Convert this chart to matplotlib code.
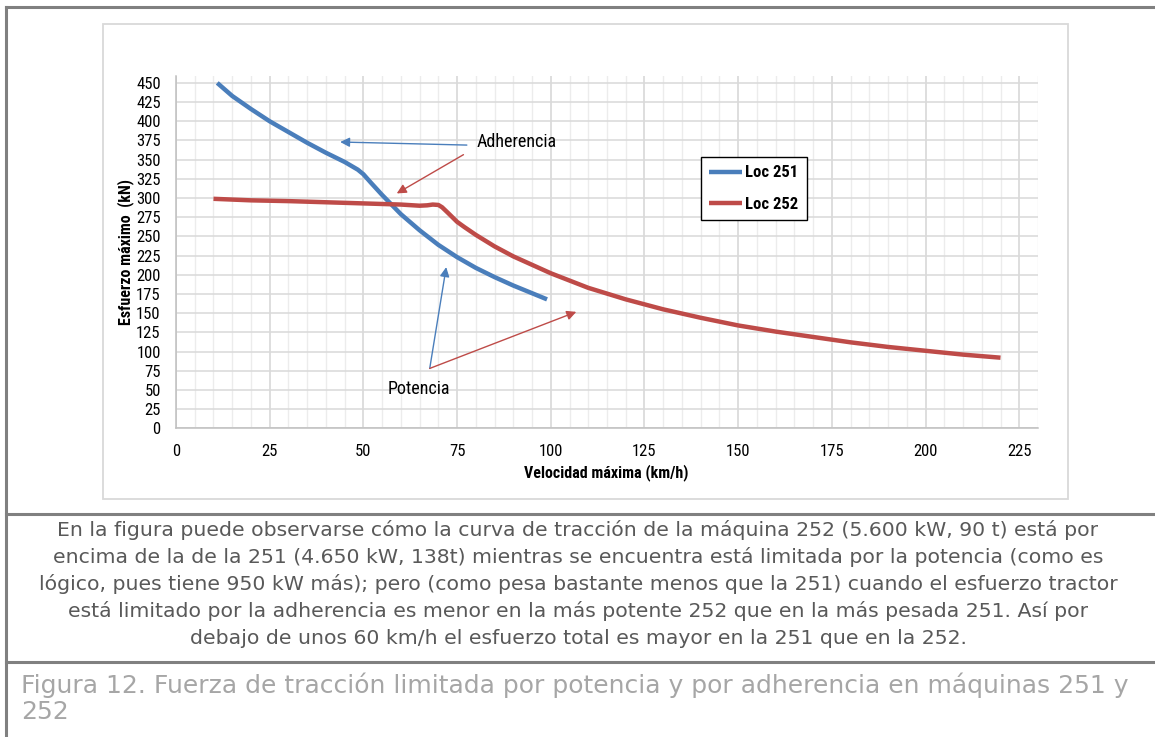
import matplotlib
matplotlib.use("Agg")
import matplotlib.pyplot as plt
from matplotlib.patches import Rectangle
from matplotlib.lines import Line2D
from matplotlib.ticker import MultipleLocator
from matplotlib import font_manager

# ---------------- data ----------------
v251 = [11, 15, 20, 25, 30, 35, 40, 45, 48.5, 50, 52, 55, 58, 60, 65, 70, 75, 80, 85, 90, 95, 99]
f251 = [450, 433, 416, 400, 386, 372, 359, 347, 337, 331, 320, 304, 289, 279, 258, 239, 223, 209, 197, 186, 176, 168]

v252 = [10, 20, 30, 40, 50, 60, 65, 67, 68.5, 70, 71, 72.5, 75, 77, 80, 85, 90, 100, 110, 120, 130,
        140, 150, 160, 170, 180, 190, 200, 210, 220]
f252 = [299, 297, 296, 294.5, 293, 291.5, 290, 290.5, 291.5, 291, 288, 281, 269, 262, 252, 237, 224, 202, 183, 168,
        155, 144, 134, 126, 119, 112, 106, 101, 96, 92]

series_names = ["Loc 251", "Loc 252"]
x_label = "Velocidad máxima (km/h)"
y_label = "Esfuerzo máximo  (kN)"
x_ticks = list(range(0, 226, 25))
y_ticks = list(range(0, 451, 25))

body_lines = [
    "En la figura puede observarse cómo la curva de tracción de la máquina 252 (5.600 kW, 90 t) está por",
    "encima de la de la 251 (4.650 kW, 138t) mientras se encuentra está limitada por la potencia (como es",
    "lógico, pues tiene 950 kW más); pero (como pesa bastante menos que la 251) cuando el esfuerzo tractor",
    "está limitado por la adherencia es menor en la más potente 252 que en la más pesada 251. Así por",
    "debajo de unos 60 km/h el esfuerzo total es mayor en la 251 que en la 252.",
]
caption_lines = [
    "Figura 12. Fuerza de tracción limitada por potencia y por adherencia en máquinas 251 y",
    "252",
]

# ---------------- fonts ----------------
available = {f.name for f in font_manager.fontManager.ttflist}


def pick(prefs):
    return [p for p in prefs if p in available] + ["DejaVu Sans"]


CHART_FONT = pick(["Liberation Sans Narrow", "Roboto Condensed", "Roboto", "Liberation Sans"])
BODY_FONT = pick(["DejaVu Sans"])

# ---------------- layout ----------------
W, H = 1155, 737
fig = plt.figure(figsize=(W / 100, H / 100), dpi=100)
fig.patch.set_facecolor("white")


def fx(x):
    return x / W


def fy(y):
    return 1 - y / H


BLUE = "#4a7ebb"
RED = "#be4b48"

# outer table borders
gray = "#808080"
fig.add_artist(Line2D([fx(6), fx(6)], [fy(7), fy(737)], color=gray, lw=2.2, transform=fig.transFigure))
fig.add_artist(Line2D([fx(6), fx(1155)], [fy(7), fy(7)], color=gray, lw=2.2, transform=fig.transFigure))
fig.add_artist(Line2D([fx(6), fx(1155)], [fy(514), fy(514)], color=gray, lw=2.2, transform=fig.transFigure))
fig.add_artist(Line2D([fx(6), fx(1155)], [fy(662), fy(662)], color=gray, lw=2.2, transform=fig.transFigure))

# inner chart box
fig.add_artist(Rectangle((fx(103), fy(499)), fx(1068) - fx(103), fy(24) - fy(499),
                         transform=fig.transFigure, fill=False, edgecolor="#d9d9d9", lw=1.3))

# axes
L, R, T, B = 176, 1038, 76, 428.3
ax = fig.add_axes([fx(L), fy(B), fx(R) - fx(L), fy(T) - fy(B)])
ax.set_xlim(0, 230)
ax.set_ylim(0, 459)
ax.xaxis.set_minor_locator(MultipleLocator(5))
ax.set_xticks(x_ticks)
ax.set_yticks(y_ticks)
ax.grid(True, which="major", axis="y", color="#d9d9d9", lw=1.1)
ax.grid(True, which="major", axis="x", color="#d4d4d4", lw=1.1)
ax.grid(True, which="minor", axis="x", color="#ececec", lw=1.0)
ax.set_axisbelow(True)
for s in ["top", "right"]:
    ax.spines[s].set_visible(False)
for s in ["left", "bottom"]:
    ax.spines[s].set_color("#bfbfbf")
    ax.spines[s].set_linewidth(1.1)
ax.tick_params(which="both", length=0)
ax.tick_params(axis="x", pad=11)
ax.tick_params(axis="y", pad=11)
for lab in ax.get_xticklabels() + ax.get_yticklabels():
    lab.set_family(CHART_FONT)
    lab.set_fontsize(12)
    lab.set_color("#000000")

ax.plot(v251, f251, color=BLUE, lw=3.2, solid_capstyle="butt", solid_joinstyle="round", label=series_names[0])
ax.plot(v252, f252, color=RED, lw=3.2, solid_capstyle="butt", solid_joinstyle="round", label=series_names[1])

# annotations
ax.text(80.3, 373, "Adherencia", family=CHART_FONT, fontsize=13, va="center", ha="left")
ax.annotate("", xy=(43.8, 373), xytext=(77.6, 369),
            arrowprops=dict(arrowstyle="-|>", color=BLUE, lw=1.0, mutation_scale=14, shrinkA=0, shrinkB=0))
ax.annotate("", xy=(58.9, 306), xytext=(76.7, 356.5),
            arrowprops=dict(arrowstyle="-|>", color=RED, lw=1.0, mutation_scale=14, shrinkA=0, shrinkB=0))
ax.text(56.4, 50.8, "Potencia", family=CHART_FONT, fontsize=13, va="center", ha="left")
ax.annotate("", xy=(72.1, 210), xytext=(67.7, 78),
            arrowprops=dict(arrowstyle="-|>", color=BLUE, lw=1.0, mutation_scale=14, shrinkA=0, shrinkB=0))
ax.annotate("", xy=(106.8, 151.7), xytext=(67.7, 78),
            arrowprops=dict(arrowstyle="-|>", color=RED, lw=1.0, mutation_scale=14, shrinkA=0, shrinkB=0))

leg = ax.legend(loc="upper left", bbox_to_anchor=((701 - L) / (R - L), (B - 157) / (B - T)),
                prop=dict(family=CHART_FONT, weight="bold", size=12),
                frameon=True, fancybox=False, edgecolor="#000000", framealpha=1,
                handlelength=1.95, handletextpad=0.2, labelspacing=1.0, borderpad=0.5,
                borderaxespad=0)
leg.get_frame().set_linewidth(1.0)

# axis titles
fig.text(fx(606), fy(473), x_label, family=CHART_FONT, weight="bold", fontsize=11.5,
         ha="center", va="center")
fig.text(fx(126), fy(252), y_label, family=CHART_FONT, weight="bold", fontsize=11.5,
         ha="center", va="center", rotation=90)

# body text (fit to measured line widths)
renderer = fig.canvas.get_renderer()


def fit_size(text, family, size0, target_px):
    t = fig.text(0, 0, text, family=family, fontsize=size0)
    w = t.get_window_extent(renderer).width
    t.remove()
    return size0 * target_px / w


body_size = fit_size(body_lines[0], BODY_FONT, 12, 1033)
for i, line in enumerate(body_lines):
    fig.text(fx(578), fy(530 + 27 * i), line, family=BODY_FONT, fontsize=body_size, color="#595959",
             ha="center", va="center")

cap_size = fit_size(caption_lines[0], BODY_FONT, 15, 1106)
for i, line in enumerate(caption_lines):
    fig.text(fx(21), fy(685 + 27 * i), line, family=BODY_FONT, fontsize=cap_size, color="#a6a6a6",
             ha="left", va="center")

fig.savefig("out.png", dpi=100)
